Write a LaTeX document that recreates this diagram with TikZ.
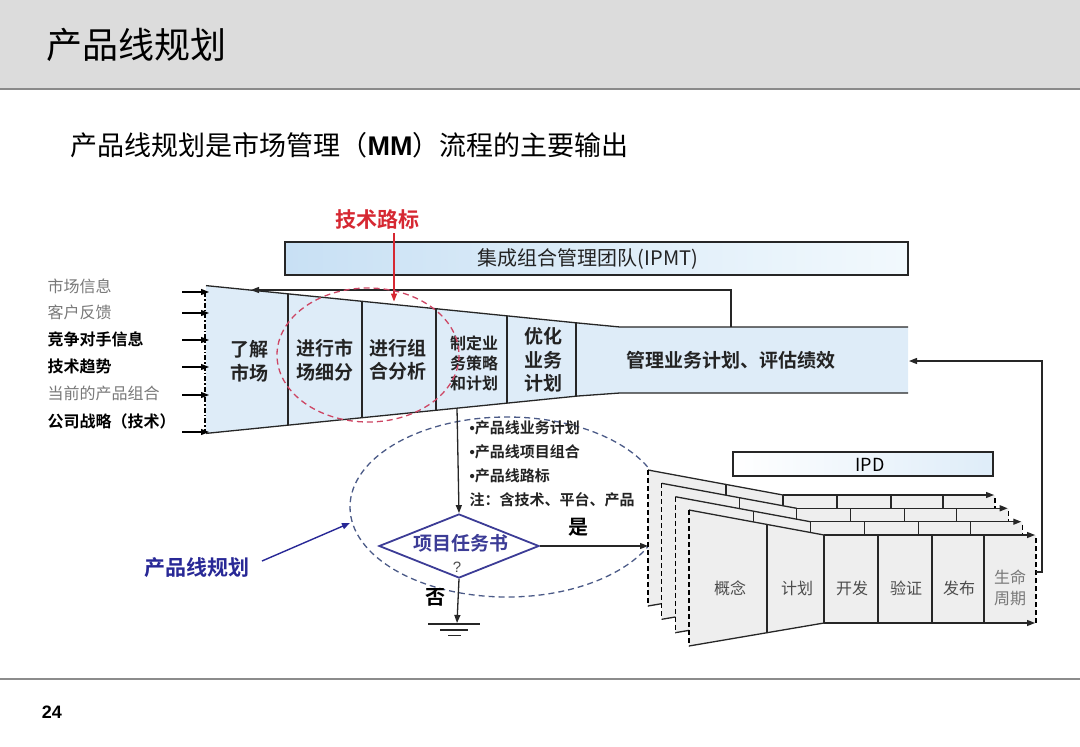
\documentclass[tikz,border=0pt]{standalone}
\usepackage{fontspec}
\setmainfont{Liberation Sans}
\newfontfamily\cjk{Noto Sans CJK SC}[BoldFont={Noto Sans CJK SC Bold}]
\usetikzlibrary{arrows.meta,shapes.geometric}
\definecolor{hdr}{RGB}{220,220,220}
\definecolor{hdrline}{RGB}{138,138,138}
\definecolor{funnel}{RGB}{222,236,248}
\definecolor{ipmtL}{RGB}{200,224,244}
\definecolor{ipmtR}{RGB}{242,249,253}
\definecolor{rtxt}{RGB}{214,40,50}
\definecolor{rdash}{RGB}{205,70,100}
\definecolor{bdash}{RGB}{75,90,135}
\definecolor{dia}{RGB}{60,60,150}
\definecolor{blab}{RGB}{40,40,150}
\definecolor{lay}{RGB}{238,238,238}
\definecolor{gtxt}{RGB}{120,120,120}
\definecolor{dtxt}{RGB}{35,35,35}
\newcommand\fsz[2]{\fontsize{#1}{#2}\selectfont}
\newcommand\bul{{\rmfamily\bfseries\textbullet}}
\begin{document}
\begin{tikzpicture}[x=1pt,y=-1pt,line width=1.3pt,
  txt/.style={font=\cjk, inner sep=0pt, text=dtxt},
  arr/.style={-{Triangle[length=8pt,width=6pt]}},
  edge/.style={draw=black!85},
  lbl/.style={txt, anchor=west, font=\cjk\fsz{16}{18}},
  glbl/.style={lbl, text=gtxt},
  blbl/.style={lbl, font=\cjk\bfseries\fsz{16}{18}, text=black},
  ftxt/.style={txt, align=center, font=\cjk\bfseries\fsz{19}{23.5}},
  stg/.style={txt, align=center, font=\cjk\fsz{16}{20}, text=black!70},
  bultxt/.style={txt, anchor=west, font=\cjk\bfseries\fsz{15}{18}}]
\useasboundingbox (0,0) rectangle (1080,747);

% header
\fill[hdr] (0,0) rectangle (1080,88);
\draw[hdrline, line width=2pt] (0,88.5) -- (1080,88.5);
\node[txt, anchor=west, font=\cjk\fsz{36}{40}, text=black] (title) at (46,45) {产品线规划};
\node[txt, anchor=west, font=\fsz{27}{30}, text=black] (sub) at (70,145) {{\cjk 产品线规划是市场管理（}{\bfseries MM}{\cjk ）流程的主要输出}};

% IPMT
\node[draw=black!85, line width=1.5pt, left color=ipmtL, right color=ipmtR, minimum width=623pt, minimum height=33pt, inner sep=0pt] (ipmt) at (596.5,258.5) {};
\node[txt, font=\cjk\fsz{20}{22}] (ipmtt) at (588,259) {集成组合管理团队(IPMT)};

% funnel
\fill[funnel] (206,285.6) -- (578,323) -- (620,327) -- (908,327) -- (908,393) -- (620,393) -- (578,396) -- (206,433.4) -- cycle;
\draw[edge] (206,285.6) -- (578,323) -- (620,327) -- (908,327);
\draw[edge] (206,433.4) -- (578,396) -- (620,393) -- (908,393);
\foreach \x/\t/\b in {288/293.8/425.2, 362/301.3/417.8, 436/308.7/410.4, 507/315.9/403.3, 576/322.8/396.4}
  \draw[edge] (\x,\t) -- (\x,\b);
\draw[black, line width=1.3pt, dash pattern=on 5pt off 2pt on 1.5pt off 2pt] (205,292) -- (205,433);

\node[ftxt] (f1) at (249,361) {了解\\市场};
\node[ftxt] (f2) at (325,360) {进行市\\场细分};
\node[ftxt] (f3) at (398,360) {进行组\\合分析};
\node[ftxt, font=\cjk\bfseries\fsz{16}{20}] (f4) at (474,363) {制定业\\务策略\\和计划};
\node[ftxt] (f5) at (543,360) {优化\\业务\\计划};
\node[ftxt, font=\cjk\bfseries\fsz{19}{22}] (f6) at (731,360) {管理业务计划、评估绩效};

% inputs
\node[glbl] (in1) at (47,286) {市场信息};
\node[glbl] (in2) at (47,312) {客户反馈};
\node[blbl] (in3) at (47,339) {竞争对手信息};
\node[blbl] (in4) at (47,366) {技术趋势};
\node[glbl] (in5) at (47,393) {当前的产品组合};
\node[blbl] (in6) at (47,421) {公司战略（技术）};
\foreach \y in {292,313,340,367,395,432}
  \draw[arr, black] (182,\y) -- (209,\y);

% feedback top
\coordinate (fbA) at (731,327);
\coordinate (fbB) at (731,290);
\coordinate (fbC) at (251,290);
\draw[arr, edge] (fbA) -- (fbB) -- (fbC);

% red
\node[txt, font=\cjk\bfseries\fsz{21}{24}, text=rtxt] (tech) at (377,220) {技术路标};
\coordinate (techE) at (394,301.5);
\draw[arr, rtxt, line width=1.2pt] (394,233) -- (techE);
\draw[rdash, line width=1.3pt, dash pattern=on 6pt off 4pt] (368,355) ellipse [x radius=91, y radius=67];

% blue ellipse
\draw[bdash, line width=1.3pt, dash pattern=on 6pt off 4pt] (507,507) ellipse [x radius=157, y radius=90];
\node[bultxt] (b1) at (469,428) {\bul 产品线业务计划};
\node[bultxt] (b2) at (469,452) {\bul 产品线项目组合};
\node[bultxt] (b3) at (469,476) {\bul 产品线路标};
\node[bultxt] (b4) at (469,500) {注：含技术、平台、产品};

% diamond
\coordinate (fbot) at (457,408);
\node[diamond, draw=dia, line width=1.8pt, minimum width=160pt, minimum height=64pt, inner sep=0pt] (dm) at (459,546) {};
\node[txt, font=\cjk\bfseries\fsz{19}{22}, text=dia] (dmt) at (461,543) {项目任务书};
\node[txt, font=\fsz{15}{17}, text=black!70] (dmq) at (457,567) {?};
\draw[arr, edge] (fbot) -- (dm.north);
\coordinate (gnd) at (457,623);
\draw[arr, edge] (dm.south) -- (gnd);
\draw[edge] (428,624) -- (480,624);
\draw[edge] (440,630) -- (468,630);
\draw[edge] (448,635.5) -- (461,635.5);
\node[txt, font=\cjk\bfseries\fsz{20}{22}, text=black] (no) at (435,597) {否};
\node[txt, font=\cjk\bfseries\fsz{20}{22}, text=black] (yes) at (578,527) {是};
\coordinate (yesE) at (648,546);
\draw[arr, edge] (dm.east) -- (yesE);

% blue label
\node[txt, font=\cjk\bfseries\fsz{21}{24}, text=blab] (plab) at (197,568) {产品线规划};
\coordinate (plabE) at (350,523);
\draw[arr, blab, line width=1.4pt] (262,561) -- (plabE);

% IPD
\node[draw=black!85, line width=1.5pt, left color=white, right color=ipmtL!60, minimum width=260pt, minimum height=24pt, inner sep=0pt] (ipd) at (863,464) {};
\node[txt, font=\fsz{18}{20}, text=black] (ipdt) at (870,465) {\cjk IPD};

\foreach \L/\T in {648/470, 661.7/483.3, 675.3/496.7, 689/510} {
  \fill[lay] (\L,\T) -- ({\L+135},{\T+25}) -- ({\L+347},{\T+25}) -- ({\L+347},{\T+113}) -- ({\L+135},{\T+113}) -- (\L,{\T+136}) -- cycle;
  \draw[edge] (\L,\T) -- ({\L+135},{\T+25});
  \draw[edge] (\L,{\T+136}) -- ({\L+135},{\T+113});
  \draw[edge, arr] ({\L+135},{\T+25}) -- ({\L+346},{\T+25});
  \draw[edge, arr] ({\L+135},{\T+113}) -- ({\L+346},{\T+113});
  \draw[black, line width=1.5pt, dash pattern=on 5pt off 3pt] (\L,\T) -- (\L,{\T+136});
  \draw[black, line width=1.5pt, dash pattern=on 5pt off 3pt] ({\L+347},{\T+28}) -- ({\L+347},{\T+113});
  \draw[edge] ({\L+78},{\T+14.4}) -- ({\L+78},{\T+122.7});
  \foreach \d in {135,189,243,295}
    \draw[edge] ({\L+\d},{\T+25}) -- ({\L+\d},{\T+113});
}
\node[stg] (s1) at (730,588) {概念};
\node[stg] (s2) at (797,588) {计划};
\node[stg] (s3) at (852,588) {开发};
\node[stg] (s4) at (906,588) {验证};
\node[stg] (s5) at (959,588) {发布};
\node[stg, text=gtxt, font=\cjk\fsz{16}{21}] (s6) at (1010,588) {生命\\周期};

% feedback right
\coordinate (rbA) at (1036,572);
\coordinate (rbB) at (1042,572);
\coordinate (rbC) at (1042,361);
\coordinate (rbD) at (909,361);
\draw[arr, edge] (rbA) -- (rbB) -- (rbC) -- (rbD);

% footer
\draw[black!45, line width=1.6pt] (0,679) -- (1080,679);
\node[txt, font=\bfseries\fsz{18}{20}, text=black] (pg) at (52,712) {24};
\end{tikzpicture}
\end{document}
